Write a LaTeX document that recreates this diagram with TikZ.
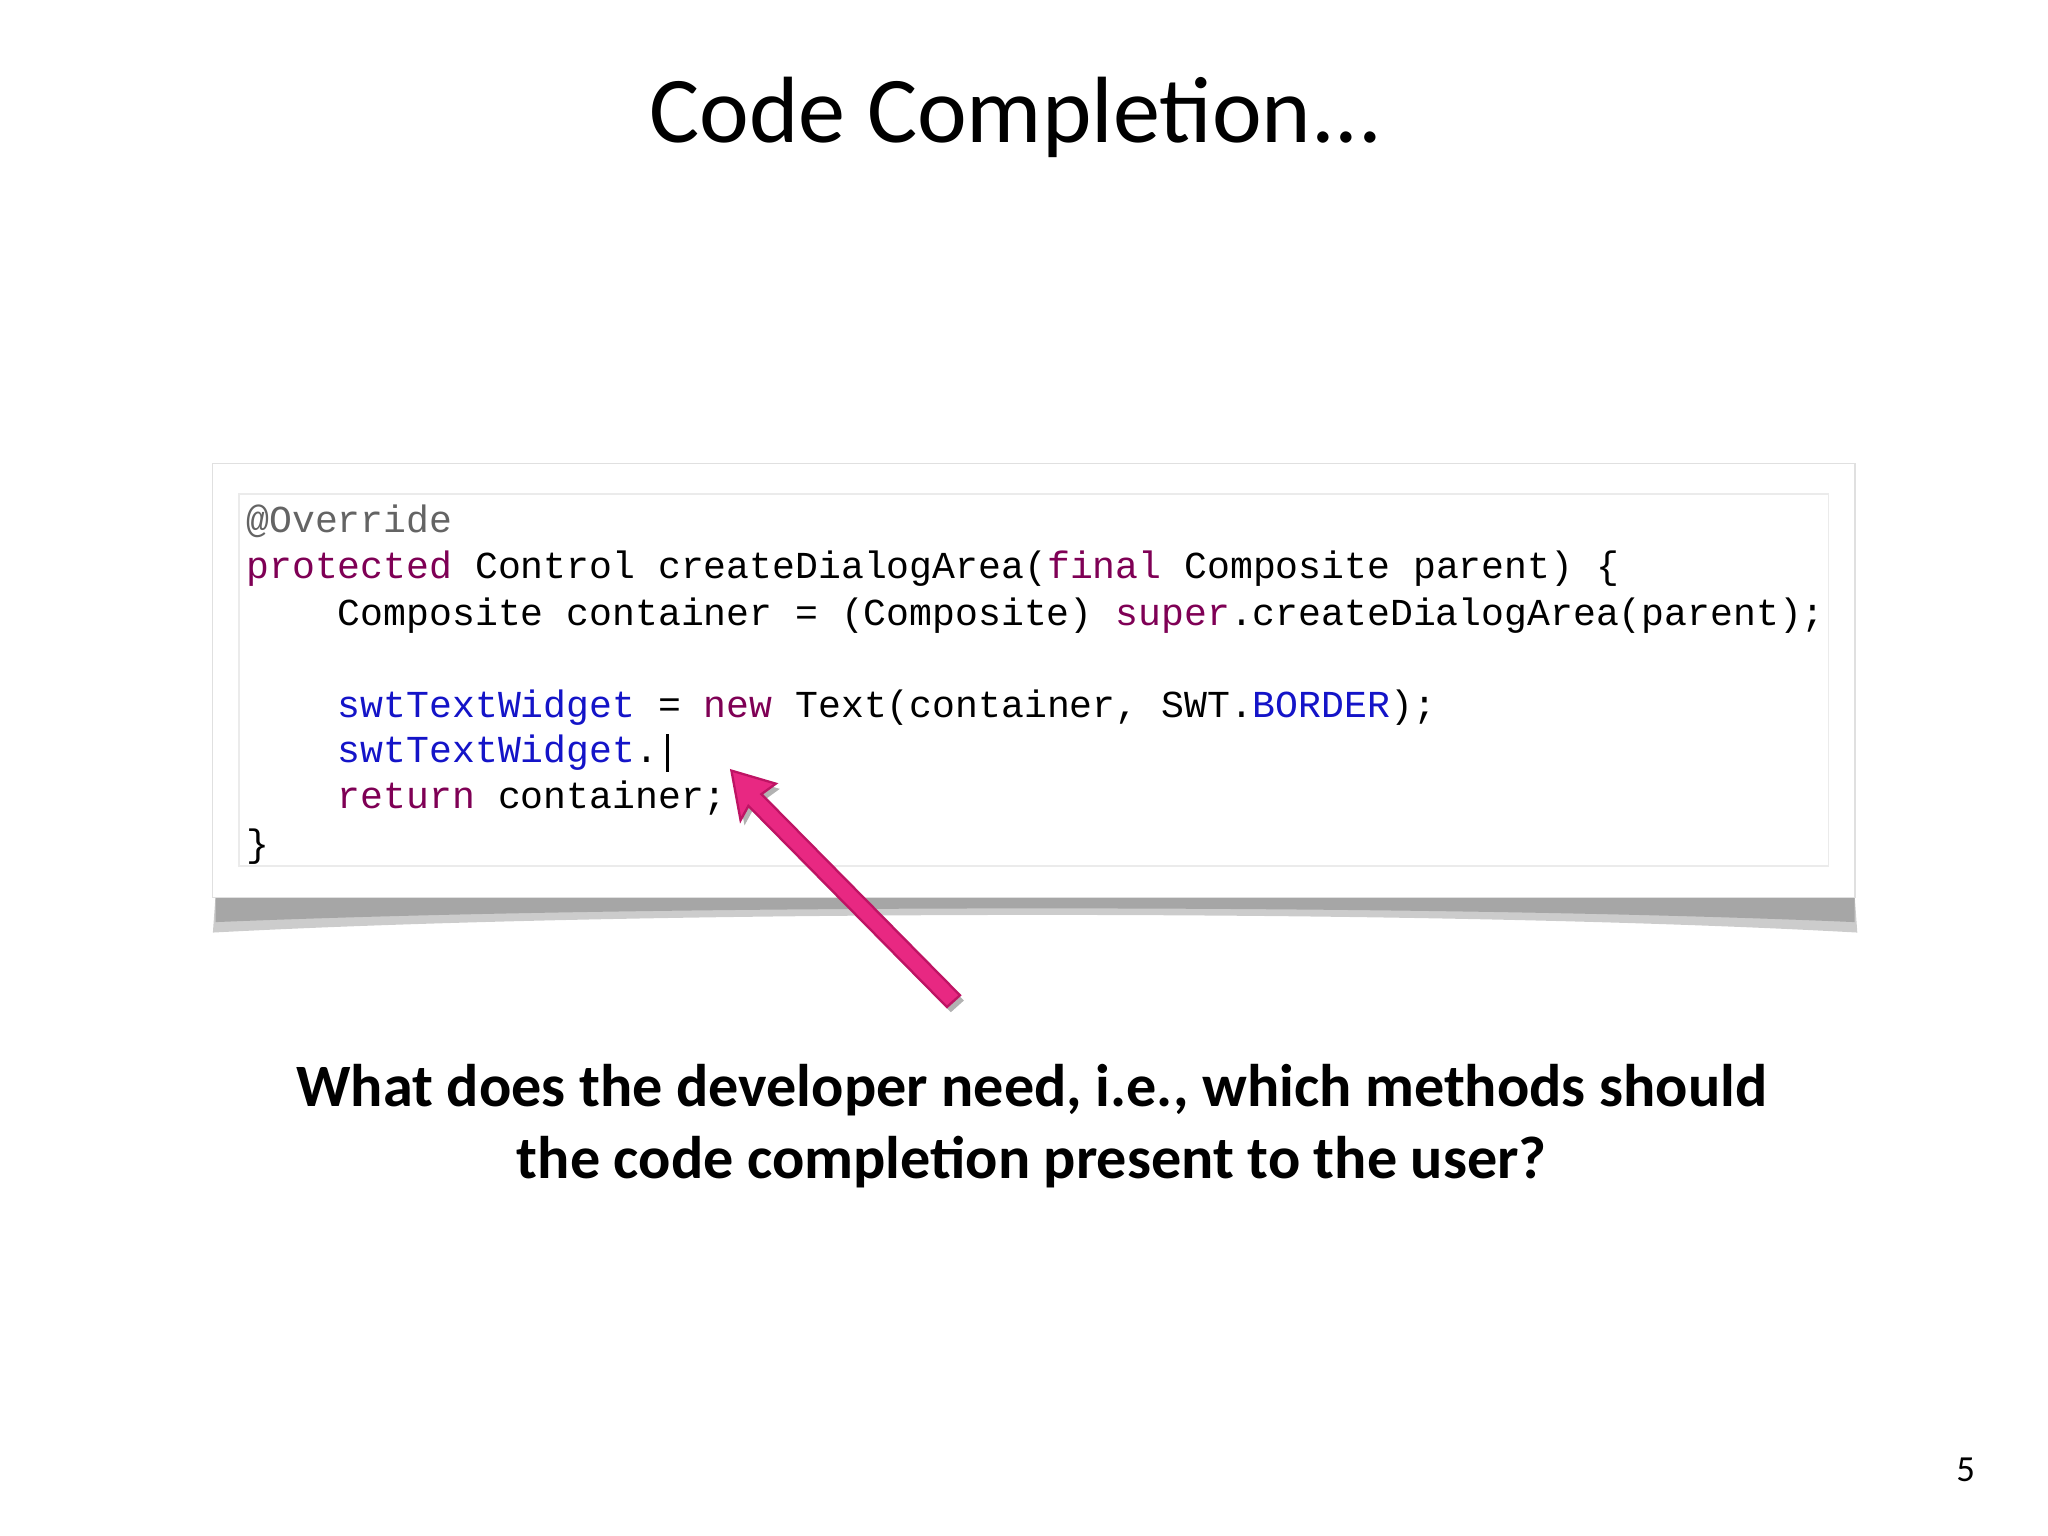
\documentclass[tikz,border=0pt]{standalone}
\usepackage{fontspec}
\setmainfont{Carlito}
\newfontfamily\codefont{Liberation Mono}
\definecolor{kw}{RGB}{127,0,85}
\definecolor{fld}{RGB}{20,20,200}
\definecolor{ann}{RGB}{100,100,100}
\definecolor{pink}{RGB}{232,40,130}
\definecolor{pinkdark}{RGB}{190,20,100}
\tikzset{codeline/.style={anchor=base west,inner sep=0,font=\codefont\fontsize{8.3pt}{10pt}\selectfont}}
\begin{document}
\begin{tikzpicture}[x=0.01cm,y=-0.01cm]
\useasboundingbox (0,0) rectangle (1568,1176);
\node (title) at (778,90) {\fontsize{20.5pt}{24pt}\selectfont Code Completion...};
% shadow
\fill[black!20] (165,686) -- (1420,686) -- (1422,714) .. controls (1100,696) and (500,696) .. (163,714) -- cycle;
\fill[black!35] (165,686) -- (1420,686) -- (1420,706) .. controls (1100,692) and (500,692) .. (165,706) -- cycle;
\node[draw=black!12,fill=white,minimum width=12.57cm,minimum height=3.32cm,inner sep=0] (box) at (791.5,521) {};
\draw[black!8] (183,378) rectangle (1400,663);
\node[codeline] (l1) at (188,408) {\textcolor{ann}{@Override}};
\node[codeline] (l2) at (188,443) {\textcolor{kw}{protected} Control createDialogArea(\textcolor{kw}{final} Composite parent) \{};
\node[codeline] (l3) at (258,479) {Composite container = (Composite) \textcolor{kw}{super}.createDialogArea(parent);};
\node[codeline] (l4) at (258,549) {\textcolor{fld}{swtTextWidget} = \textcolor{kw}{new} Text(container, SWT.\textcolor{fld}{BORDER});};
\node[codeline] (l5) at (258,584) {\textcolor{fld}{swtTextWidget}.};
\node[codeline] (l6) at (258,619) {\textcolor{kw}{return} container;};
\node[codeline] (l7) at (188,656) {\}};
\draw[black,line width=0.6pt] (511,562) -- (511,591);
% arrow
\fill[black!30,shift={(3,4)}] (560,590) -- (594,600) -- (583,608) -- (735,762) -- (725,771) -- (573,617) -- (567,628) -- cycle;
\fill[pink,draw=pinkdark,line width=0.5pt] (560,590) -- (594,600) -- (583,608) -- (735,762) -- (725,771) -- (573,617) -- (567,628) -- cycle;
\node[align=center,font=\bfseries\fontsize{13.1pt}{15.6pt}\selectfont] (q) at (790,862) {What does the developer need, i.e., which methods should\\the code completion present to the user?};
\node (pg) at (1505,1125) {\fontsize{8pt}{9pt}\selectfont 5};
\end{tikzpicture}
\end{document}
